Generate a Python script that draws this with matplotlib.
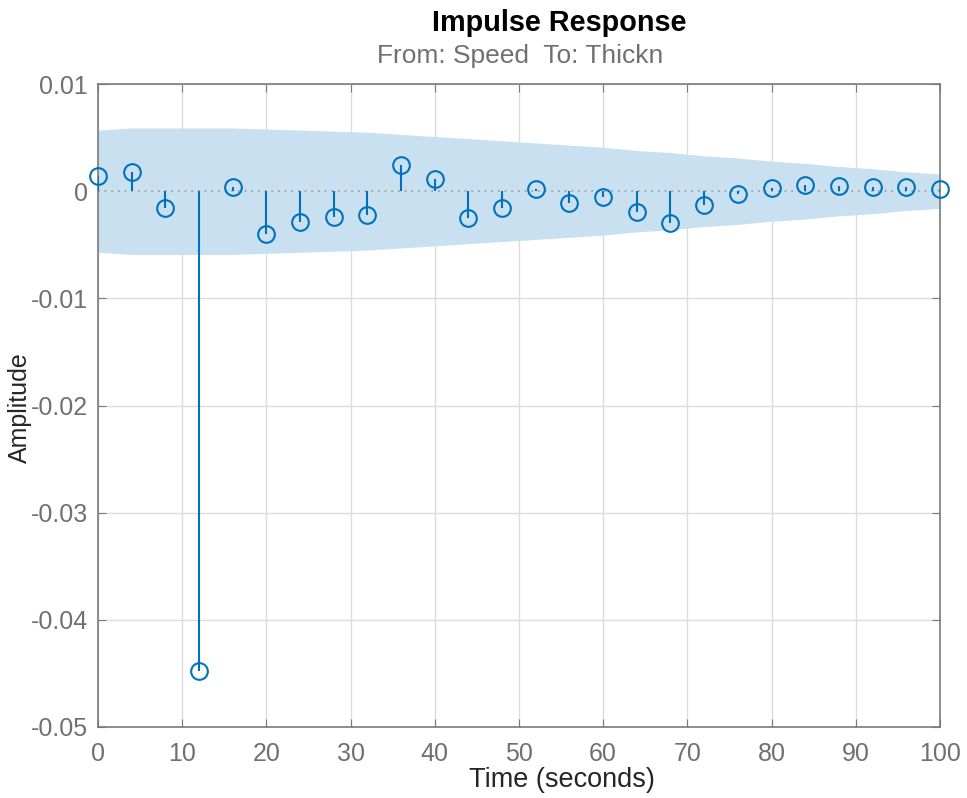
import numpy as np
import matplotlib.pyplot as plt

plt.rcParams['font.family'] = ['Liberation Sans', 'DejaVu Sans']

# impulse response samples (Ts = 4 s)
t = np.arange(0, 101, 4)
amp = [0.0014, 0.0018, -0.0016, -0.0448, 0.0004, -0.0040, -0.0029, -0.0024,
       -0.0022, 0.0024, 0.0011, -0.0025, -0.0016, 0.0002, -0.0011, -0.0005,
       -0.0019, -0.0030, -0.0013, -0.0003, 0.0003, 0.0006, 0.0005, 0.0004,
       0.0004, 0.0002]
# confidence region half-width
band = [0.0057, 0.0059, 0.0059, 0.0059, 0.0059, 0.0058, 0.0057, 0.0056,
        0.0055, 0.0053, 0.0051, 0.0049, 0.0047, 0.0045, 0.0043, 0.0041,
        0.0038, 0.0036, 0.0033, 0.0031, 0.0028, 0.0026, 0.0023, 0.0021,
        0.0018, 0.0016]

line_col = '#0072BD'
band_col = '#c8e0f0'
tick_col = '#707070'
lab_col = '#262626'

fig = plt.figure(figsize=(9.67, 7.98), dpi=100)
ax = fig.add_axes([0.1013, 0.089, 0.8707, 0.8057])

band = np.array(band)
ax.fill_between(t, -band, band, color=band_col, linewidth=0, zorder=1)
ax.axhline(0, color='#9a9a9a', linestyle=(0, (1, 3)), linewidth=1.2, zorder=2)

ax.vlines(t, 0, amp, color=line_col, linewidth=1.5, zorder=3)
ax.plot(t, amp, 'o', mfc='none', mec=line_col, ms=12, mew=1.5, zorder=4,
        clip_on=False)

ax.set_xlim(0, 100)
ax.set_ylim(-0.05, 0.01)
ax.set_xticks(np.arange(0, 101, 10))
ax.set_yticks([-0.05, -0.04, -0.03, -0.02, -0.01, 0, 0.01])
ax.set_yticklabels(['-0.05', '-0.04', '-0.03', '-0.02', '-0.01', '0', '0.01'])
ax.grid(True, color='#dcdcdc', linewidth=1)
ax.set_axisbelow(True)
for s in ax.spines.values():
    s.set_color('#7a7a7a')
    s.set_linewidth(1.2)
ax.tick_params(direction='in', length=6, colors='#7a7a7a', labelcolor=tick_col,
               labelsize=18, top=True, right=True)
ax.tick_params(axis='x', pad=11)
ax.tick_params(axis='y', pad=7)

fig.text(0.578, 0.9612, 'Impulse Response', ha='center', va='baseline',
         fontsize=20.8, fontweight='bold', color='black')
fig.text(0.538, 0.921, 'From: Speed  To: Thickn', ha='center', va='baseline',
         fontsize=19, color=tick_col)
fig.text(0.581, 0.0138, 'Time (seconds)', ha='center', va='baseline',
         fontsize=19.5, color=lab_col)
fig.text(0.021, 0.4887, 'Amplitude', ha='center', va='center', rotation=90,
         fontsize=18, color=lab_col)

fig.savefig('out.png', dpi=100)
